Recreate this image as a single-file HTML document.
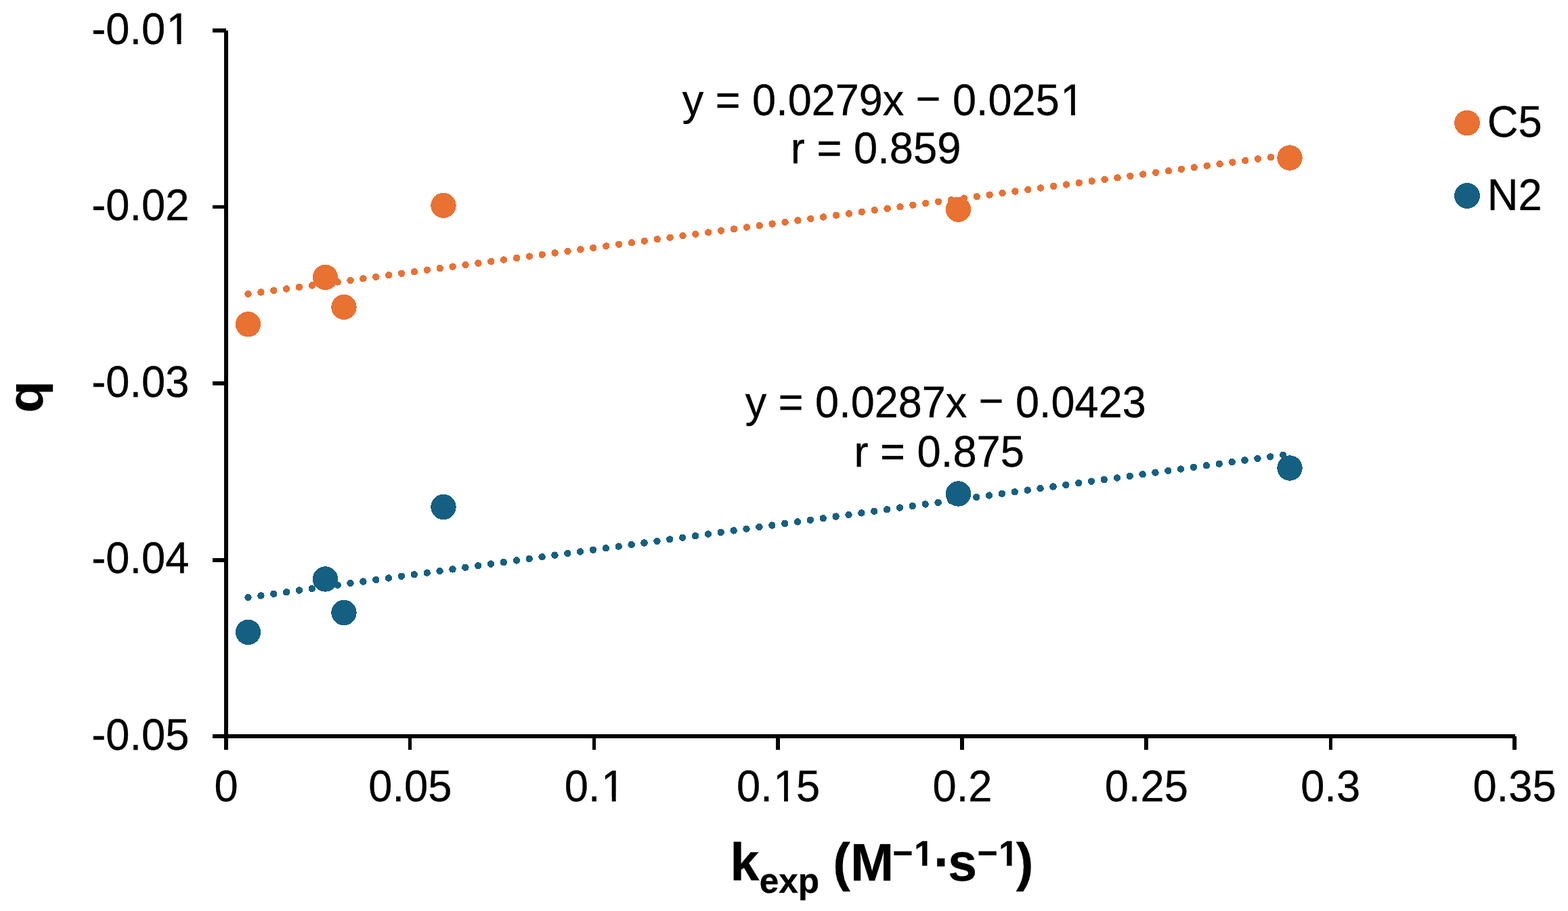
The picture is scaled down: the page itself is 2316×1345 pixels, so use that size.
<!DOCTYPE html><html><head><meta charset="utf-8"><title>Chart: q vs k_exp</title><style>html,body{margin:0;padding:0;background:#fff;width:2316px;height:1345px;overflow:hidden}svg{display:block}text{font-family:"Liberation Sans",Arial,sans-serif;font-kerning:none;fill:#000;stroke:#000;stroke-width:0.35px;white-space:pre}</style></head><body>
<svg width="2316" height="1345" viewBox="0 0 2316 1345">
<rect width="2316" height="1345" fill="#fff"/>
<line x1="366.50" y1="434.01" x2="1905.00" y2="228.36" stroke="#E97132" stroke-width="10.4" stroke-linecap="round" stroke-dasharray="0.01 19.04" shape-rendering="crispEdges"/>
<line x1="366.50" y1="881.95" x2="1905.00" y2="670.39" stroke="#156082" stroke-width="10.4" stroke-linecap="round" stroke-dasharray="0.01 19.04" shape-rendering="crispEdges"/>
<g fill="#000" shape-rendering="crispEdges">
<rect x="331" y="45" width="6" height="1045"/>
<rect x="331" y="1084" width="1907" height="6"/>
<rect x="314" y="42" width="20" height="6"/>
<rect x="314" y="303" width="20" height="5"/>
<rect x="314" y="563" width="20" height="6"/>
<rect x="314" y="824" width="20" height="6"/>
<rect x="314" y="1084" width="20" height="6"/>
<rect x="331" y="1087" width="6" height="20"/>
<rect x="603" y="1087" width="5" height="20"/>
<rect x="875" y="1087" width="5" height="20"/>
<rect x="1146" y="1087" width="6" height="20"/>
<rect x="1418" y="1087" width="6" height="20"/>
<rect x="1690" y="1087" width="6" height="20"/>
<rect x="1963" y="1087" width="5" height="20"/>
<rect x="2234" y="1087" width="6" height="20"/>
</g>
<g shape-rendering="crispEdges">
<circle cx="366.50" cy="478.80" r="18.70" fill="#E97132"/>
<circle cx="480.50" cy="409.40" r="18.70" fill="#E97132"/>
<circle cx="508.00" cy="453.40" r="18.70" fill="#E97132"/>
<circle cx="655.00" cy="303.40" r="18.70" fill="#E97132"/>
<circle cx="1415.50" cy="309.20" r="18.70" fill="#E97132"/>
<circle cx="1905.00" cy="233.00" r="18.70" fill="#E97132"/>
<circle cx="366.50" cy="933.40" r="18.70" fill="#156082"/>
<circle cx="480.50" cy="855.00" r="18.70" fill="#156082"/>
<circle cx="508.00" cy="904.50" r="18.70" fill="#156082"/>
<circle cx="655.00" cy="748.50" r="18.70" fill="#156082"/>
<circle cx="1415.50" cy="729.00" r="18.70" fill="#156082"/>
<circle cx="1905.00" cy="691.00" r="18.70" fill="#156082"/>
</g>
<text transform="translate(135.22 65.00) scale(1 1.010)" font-size="63.30">-0.0<tspan dx="1.52">1</tspan></text>
<text transform="translate(135.22 325.00) scale(1 1.010)" font-size="63.30">-0.02</text>
<text transform="translate(135.22 586.00) scale(1 1.010)" font-size="63.30">-0.03</text>
<text transform="translate(135.22 846.00) scale(1 1.010)" font-size="63.30">-0.04</text>
<text transform="translate(135.22 1107.00) scale(1 1.010)" font-size="63.30">-0.05</text>
<text transform="translate(316.40 1182.50) scale(1 1.010)" font-size="63.30">0</text>
<text transform="translate(544.26 1182.50) scale(1 1.010)" font-size="63.30">0.05</text>
<text transform="translate(833.72 1182.50) scale(1 1.010)" font-size="63.30">0.<tspan dx="1.52">1</tspan></text>
<text transform="translate(1087.97 1182.50) scale(1 1.010)" font-size="63.30">0.<tspan dx="1.52">1</tspan><tspan dx="-1.52">5</tspan></text>
<text transform="translate(1377.43 1182.50) scale(1 1.010)" font-size="63.30">0.2</text>
<text transform="translate(1631.69 1182.50) scale(1 1.010)" font-size="63.30">0.25</text>
<text transform="translate(1921.15 1182.50) scale(1 1.010)" font-size="63.30">0.3</text>
<text transform="translate(2175.40 1182.50) scale(1 1.010)" font-size="63.30">0.35</text>
<text transform="translate(1007.85 170.00) scale(1 1.030)" font-size="63.00">y = 0.0279x <tspan dy="-1.8">−</tspan><tspan dy="1.8"> 0.025</tspan><tspan dx="1.51">1</tspan></text>
<text transform="translate(1167.80 241.40) scale(1 1.030)" font-size="63.30">r = 0.859</text>
<text transform="translate(1100.85 616.00) scale(1 1.030)" font-size="63.00">y = 0.0287x <tspan dy="-1.8">−</tspan><tspan dy="1.8"> 0.0423</tspan></text>
<text transform="translate(1261.40 689.00) scale(1 1.030)" font-size="63.30">r = 0.875</text>
<g shape-rendering="crispEdges">
<circle cx="2167" cy="181.5" r="18.9" fill="#E97132"/>
<circle cx="2167" cy="289" r="18.9" fill="#156082"/>
</g>
<text transform="translate(2196.69 202.20) scale(1 1.010)" font-size="63.30">C5</text>
<text transform="translate(2196.81 309.60) scale(1 1.010)" font-size="63.30">N2</text>
<text transform="translate(63.3 609.5) rotate(-90) scale(1 0.965)" font-size="77.00" font-weight="bold">q</text>
<text font-size="77.00" font-weight="bold"><tspan x="1078.42" y="1300.1">k</tspan><tspan x="1121.79" y="1318.3" font-size="51.33">exp</tspan><tspan x="1208.87" y="1300.1"> (M</tspan><tspan x="1318.57" y="1276.5" font-size="51.33">−</tspan><tspan x="1350.34" y="1278.0" font-size="51.33">1</tspan><tspan x="1379.00" y="1298.8">·</tspan><tspan x="1400.29" y="1300.1">s</tspan><tspan x="1443.77" y="1276.5" font-size="51.33">−</tspan><tspan x="1475.34" y="1278.0" font-size="51.33">1</tspan><tspan x="1500.79" y="1300.1">)</tspan></text>
<g fill="#fff"><rect x="249.64" y="59.32" width="11.95" height="7.88"/><rect x="267.48" y="59.32" width="11.45" height="7.88"/><rect x="891.85" y="1176.82" width="11.95" height="7.88"/><rect x="909.69" y="1176.82" width="11.45" height="7.88"/><rect x="1146.10" y="1176.82" width="11.95" height="7.88"/><rect x="1163.94" y="1176.82" width="11.45" height="7.88"/><rect x="1570.10" y="164.25" width="11.89" height="7.95"/><rect x="1587.86" y="164.25" width="11.40" height="7.95"/><rect x="1352.57" y="1271.86" width="9.60" height="8.34"/><rect x="1369.51" y="1271.86" width="8.95" height="8.34"/><rect x="1477.57" y="1271.86" width="9.60" height="8.34"/><rect x="1494.51" y="1271.86" width="8.95" height="8.34"/></g>
</svg></body></html>
